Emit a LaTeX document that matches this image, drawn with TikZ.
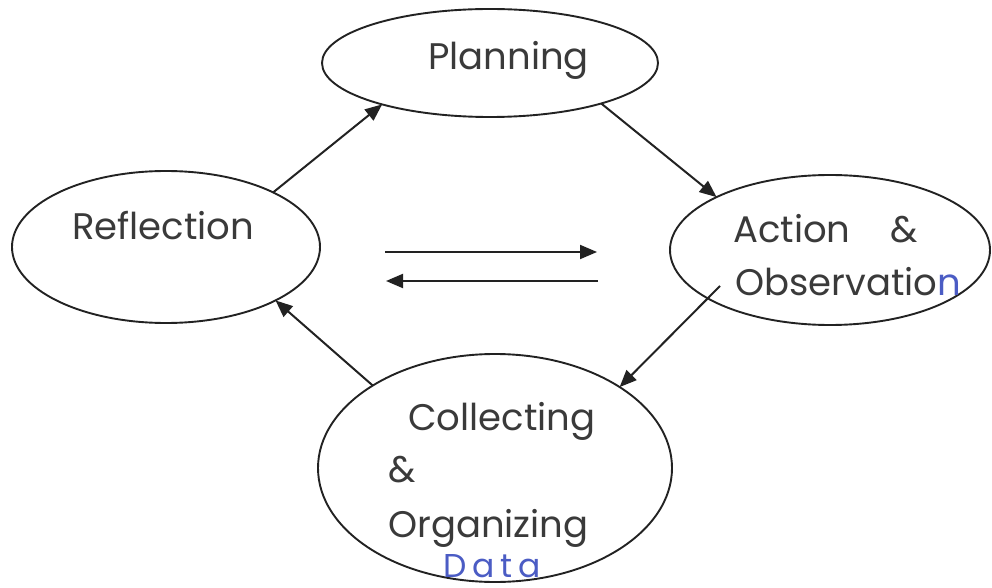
\documentclass[tikz,border=0pt]{standalone}
\usepackage{fontspec}
\setmainfont{Poppins}
\usetikzlibrary{shapes.geometric,arrows.meta}
\definecolor{ink}{HTML}{222222}
\definecolor{txt}{HTML}{3A3A3A}
\definecolor{pen}{HTML}{4B5CC4}
\begin{document}
\begin{tikzpicture}[x=1pt,y=1pt,
  bubble/.style={draw=ink, line width=1.9pt, ellipse, inner sep=0pt, outer sep=0pt},
  lbl/.style={anchor=base west, inner sep=0pt, text=txt, font=\fontsize{37}{40}\selectfont},
  hand/.style={anchor=base west, inner sep=0pt, text=pen, font=\fontsize{33}{35}\selectfont},
  conn/.style={draw=ink, line width=2pt, -{Triangle[length=17pt,width=14pt]}}]
\useasboundingbox (0,0) rectangle (992,587);
% ellipses
\node[bubble, minimum width=336pt, minimum height=108pt] (plan) at (490,524) {};
\node[bubble, minimum width=308pt, minimum height=152pt] (refl) at (166,340) {};
\node[bubble, minimum width=320pt, minimum height=150pt] (act) at (830,337) {};
\node[bubble, minimum width=354pt, minimum height=228pt] (coll) at (495,119) {};
% texts
\node[lbl] (tplan) at (428,517) {Planning};
\node[lbl] (trefl) at (72,347) {Reflection};
\node[lbl] (tact) at (733,344) {Action};
\node[lbl] (tamp1) at (890,344) {\&};
\node[lbl] (tobs) at (735,292) {Observatio{\color{pen}n}};
\node[lbl] (tcoll) at (408,157) {Collecting};
\node[lbl] (tamp2) at (388,105) {\&};
\node[lbl] (torg) at (388,50) {Organizing};
\node[hand] (tdata) at (443,10) {D\hspace{6pt}a\hspace{6pt}t\hspace{6pt}a};
% cycle connectors
\draw[conn] (refl.27.4) -- (plan.201.4);
\draw[conn] (plan.-20.1) -- (act.155.1);
\coordinate (actout) at ([shift={(-110,-36)}]act.center);
\draw[conn] (actout) -- (coll.33.2);
\draw[conn] (coll.146) -- (refl.-26.8);
% middle arrows
\coordinate (mA) at (385,335);
\coordinate (mB) at (597,335);
\coordinate (mC) at (598,306);
\coordinate (mD) at (386,306);
\draw[conn] (mA) -- (mB);
\draw[conn] (mC) -- (mD);
\end{tikzpicture}
\end{document}
